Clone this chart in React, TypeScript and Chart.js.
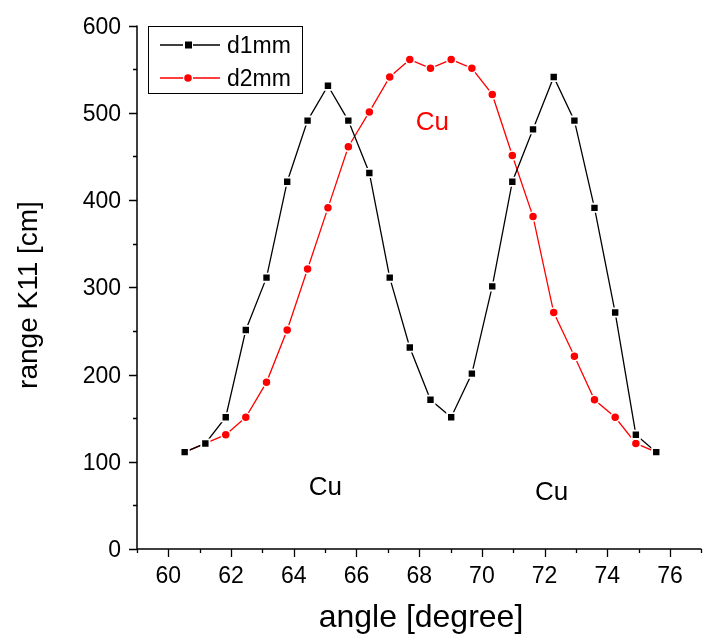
import React, { useEffect, useRef } from "react";
import { Chart, registerables } from "chart.js";

Chart.register(...registerables);

const angles = [60.52, 61.18, 61.83, 62.47, 63.13, 63.79, 64.44, 65.09, 65.74, 66.41, 67.06, 67.7, 68.36, 69.02, 69.68, 70.33, 70.97, 71.63, 72.29, 72.95, 73.59, 74.25, 74.91, 75.56];
const d1mm = [111, 121, 151, 251, 311, 421, 491, 531, 491, 431, 311, 231, 171, 151, 201, 301, 421, 481, 541, 491, 391, 271, 131, 111];
const d2mm = [111, 121, 131, 151, 191, 251, 321, 391, 461, 501, 541, 561, 551, 561, 551, 521, 451, 381, 271, 221, 171, 151, 121, 111];
const seriesNames = ["d1mm", "d2mm"];
const seriesColors = ["#000000", "#ff0000"];
const xTicks = [60, 62, 64, 66, 68, 70, 72, 74, 76];
const xMinorTicks = [59, 61, 63, 65, 67, 69, 71, 73, 75, 77];
const yTicks = [0, 100, 200, 300, 400, 500, 600];
const yMinorTicks = [50, 150, 250, 350, 450, 550];
const annotations = [
  { text: "Cu", x: 65.01, y: 70, color: "#000000" },
  { text: "Cu", x: 68.42, y: 488, color: "#ff0000" },
  { text: "Cu", x: 72.22, y: 64, color: "#000000" },
];
const xTitle = "angle [degree]";
const yTitle = "range K11 [cm]";

const FONT = '"Liberation Sans", Arial, sans-serif';

const axesPlugin = {
  id: "originAxes",
  beforeDatasetsDraw(chart: any) {
    const ctx = chart.ctx;
    const xs = chart.scales.x;
    const ys = chart.scales.y;
    const area = chart.chartArea;
    const x0 = xs.getPixelForValue(59);
    const y0 = ys.getPixelForValue(0);
    ctx.save();
    ctx.strokeStyle = "#000";
    ctx.lineWidth = 1.5;
    ctx.beginPath();
    ctx.moveTo(x0, ys.getPixelForValue(600));
    ctx.lineTo(x0, y0);
    ctx.lineTo(area.right, y0);
    ctx.stroke();
    ctx.lineWidth = 1.3;
    ctx.beginPath();
    for (const v of yTicks) {
      const p = Math.round(ys.getPixelForValue(v)) + 0.5;
      ctx.moveTo(x0 - 8, p);
      ctx.lineTo(x0, p);
    }
    for (const v of yMinorTicks) {
      const p = Math.round(ys.getPixelForValue(v)) + 0.5;
      ctx.moveTo(x0 - 4, p);
      ctx.lineTo(x0, p);
    }
    for (const v of xTicks) {
      const p = Math.round(xs.getPixelForValue(v)) + 0.5;
      ctx.moveTo(p, y0);
      ctx.lineTo(p, y0 + 8);
    }
    for (const v of xMinorTicks) {
      const p = Math.round(xs.getPixelForValue(v)) + 0.5;
      ctx.moveTo(p, y0);
      ctx.lineTo(p, y0 + 4);
    }
    ctx.stroke();

    ctx.fillStyle = "#000";
    ctx.font = "23px " + FONT;
    ctx.textAlign = "right";
    ctx.textBaseline = "alphabetic";
    for (const v of yTicks) {
      ctx.fillText(String(v), x0 - 16, ys.getPixelForValue(v) + 8);
    }
    ctx.textAlign = "center";
    for (const v of xTicks) {
      ctx.fillText(String(v), xs.getPixelForValue(v), y0 + 34);
    }

    ctx.font = "32px " + FONT;
    ctx.textAlign = "center";
    ctx.textBaseline = "alphabetic";
    ctx.fillText(xTitle, 421, 627);
    ctx.save();
    ctx.translate(37, 295);
    ctx.rotate(-Math.PI / 2);
    ctx.font = "28px " + FONT;
    ctx.fillText(yTitle, 0, 0);
    ctx.restore();

    ctx.font = "26px " + FONT;
    ctx.textBaseline = "middle";
    for (const a of annotations) {
      ctx.fillStyle = a.color;
      ctx.fillText(a.text, xs.getPixelForValue(a.x), ys.getPixelForValue(a.y));
    }
    ctx.restore();
  },
  afterDraw(chart: any) {
    const ctx = chart.ctx;
    ctx.save();
    ctx.strokeStyle = "#000";
    ctx.lineWidth = 1;
    ctx.fillStyle = "#fff";
    ctx.fillRect(148.5, 26.5, 154, 67);
    ctx.strokeRect(148.5, 26.5, 154, 67);
    const rows = [45, 78];
    for (let i = 0; i < seriesNames.length; i++) {
      const y = rows[i];
      const c = seriesColors[i];
      ctx.strokeStyle = c;
      ctx.lineWidth = 1.3;
      ctx.beginPath();
      ctx.moveTo(160, y);
      ctx.lineTo(183, y);
      ctx.moveTo(193, y);
      ctx.lineTo(220, y);
      ctx.stroke();
      ctx.fillStyle = c;
      if (i === 0) {
        ctx.fillRect(185, y - 3.5, 7, 7);
      } else {
        ctx.beginPath();
        ctx.arc(188, y, 3.8, 0, Math.PI * 2);
        ctx.fill();
      }
      ctx.fillStyle = "#000";
      ctx.font = "23px " + FONT;
      ctx.textAlign = "left";
      ctx.textBaseline = "alphabetic";
      ctx.fillText(seriesNames[i], 227, y + 8);
    }
    ctx.restore();
  },
};

export default function App() {
  const ref = useRef<HTMLCanvasElement | null>(null);
  useEffect(() => {
    if (!ref.current) return;
    const chart = new Chart(ref.current, {
      type: "line",
      data: {
        datasets: [
          {
            label: seriesNames[0],
            data: angles.map((x, i) => ({ x, y: d1mm[i] })),
            borderColor: seriesColors[0],
            backgroundColor: seriesColors[0],
            borderWidth: 1.3,
            pointStyle: "rect",
            pointRadius: 5.8,
            pointBorderColor: "#ffffff",
            pointBorderWidth: 1.8,
            pointBackgroundColor: seriesColors[0],
            tension: 0,
          },
          {
            label: seriesNames[1],
            data: angles.map((x, i) => ({ x, y: d2mm[i] })),
            borderColor: seriesColors[1],
            backgroundColor: seriesColors[1],
            borderWidth: 1.3,
            pointStyle: "circle",
            pointRadius: 4.5,
            pointBorderColor: "#ffffff",
            pointBorderWidth: 1.5,
            pointBackgroundColor: seriesColors[1],
            tension: 0,
          },
        ],
      },
      options: {
        responsive: false,
        animation: false,
        devicePixelRatio: 1,
        layout: { padding: { left: 137, top: 25.5, right: 0, bottom: 86 } },
        scales: {
          x: { type: "linear", min: 59, max: 77, display: false },
          y: { type: "linear", min: 0, max: 600, display: false },
        },
        plugins: { legend: { display: false }, tooltip: { enabled: false } },
        elements: { line: { fill: false } },
      },
      plugins: [axesPlugin],
    });
    return () => chart.destroy();
  }, []);
  return (
    <div style={{ position: "fixed", left: 0, top: 0, width: 705, height: 635, overflow: "hidden", background: "#fff" }}>
      <canvas ref={ref} width={709} height={635} style={{ display: "block" }} />
    </div>
  );
}
